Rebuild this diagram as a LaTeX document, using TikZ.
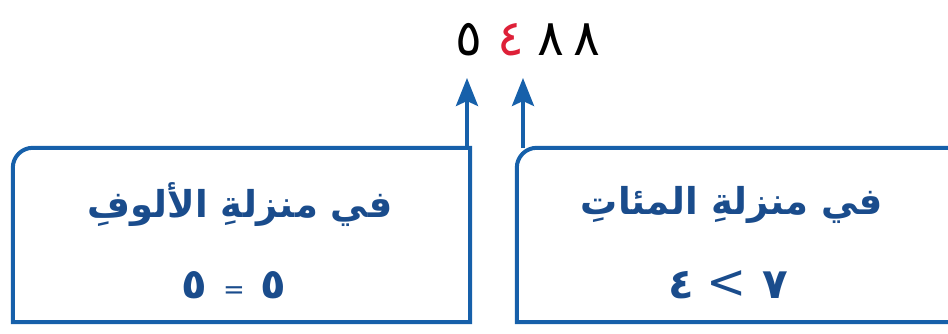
\documentclass[tikz,border=0pt]{standalone}
\usepackage{fontspec}
\newfontfamily\arabicfont[Script=Arabic]{DejaVu Sans}
\newfontfamily\symfont{DejaVu Sans}
\TeXXeTstate=1
\usetikzlibrary{arrows.meta}
\definecolor{boxblue}{RGB}{22,96,170}
\definecolor{txtblue}{RGB}{26,76,140}
\definecolor{digred}{RGB}{222,32,56}
\begin{document}
\begin{tikzpicture}[x=1pt,y=1pt,
  frame/.style={draw=boxblue,line width=4pt,line join=miter},
  arr/.style={draw=boxblue,line width=3.5pt,-{Stealth[length=28pt,width=22pt,inset=5pt]}},
  digit/.style={font=\arabicfont\fontsize{50}{56}\selectfont,inner sep=0pt,text=black},
  head/.style={font=\arabicfont\bfseries\fontsize{37}{42}\selectfont,text=txtblue,inner sep=0pt},
  rel/.style={font=\arabicfont\bfseries\fontsize{42}{46}\selectfont,text=txtblue,inner sep=0pt}]
\useasboundingbox (0,0) rectangle (948,333);
% top number
\node[digit] (d1) at (469,293) {٥};
\node[digit,text=digred] (d2) at (511,293) {٤};
\node[digit] (d3) at (551,293) {٨};
\node[digit] (d4) at (587,293) {٨};
% boxes
\node[minimum width=457pt,minimum height=174pt,inner sep=0pt] (boxL) at (241.5,98) {};
\node[minimum width=443pt,minimum height=174pt,inner sep=0pt] (boxR) at (738.5,98) {};
\draw[frame] (boxL.south west) -- ([yshift=-20pt]boxL.north west) arc[start angle=180,end angle=90,radius=20pt] -- (boxL.north east) -- (boxL.south east) -- cycle;
\draw[frame] (boxR.south east) -- (boxR.south west) -- ([yshift=-20pt]boxR.north west) arc[start angle=180,end angle=90,radius=20pt] -- (boxR.north east);
% texts
\node[head] (hL) at (240,128) {\beginR في منزلةِ الألوفِ\endR};
\node[rel] (rL) at (234,48) {٥\hspace{16pt}{\symfont\mdseries\fontsize{26}{28}\selectfont =}\hspace{16pt}٥};
\node[head] (hR) at (732,128) {\beginR في منزلةِ المئاتِ\endR};
\node[rel] (rR) at (728,48) {٤\hspace{13pt}{\symfont\mdseries\fontsize{48}{50}\selectfont <}\hspace{15pt}٧};
% arrows
\coordinate (tailL) at (467,185);
\coordinate (tailR) at (523,185);
\coordinate (tipL) at (467,255);
\coordinate (tipR) at (523,255);
\draw[arr] (tailL) -- (tipL);
\draw[arr] (tailR) -- (tipR);
\end{tikzpicture}
\end{document}
